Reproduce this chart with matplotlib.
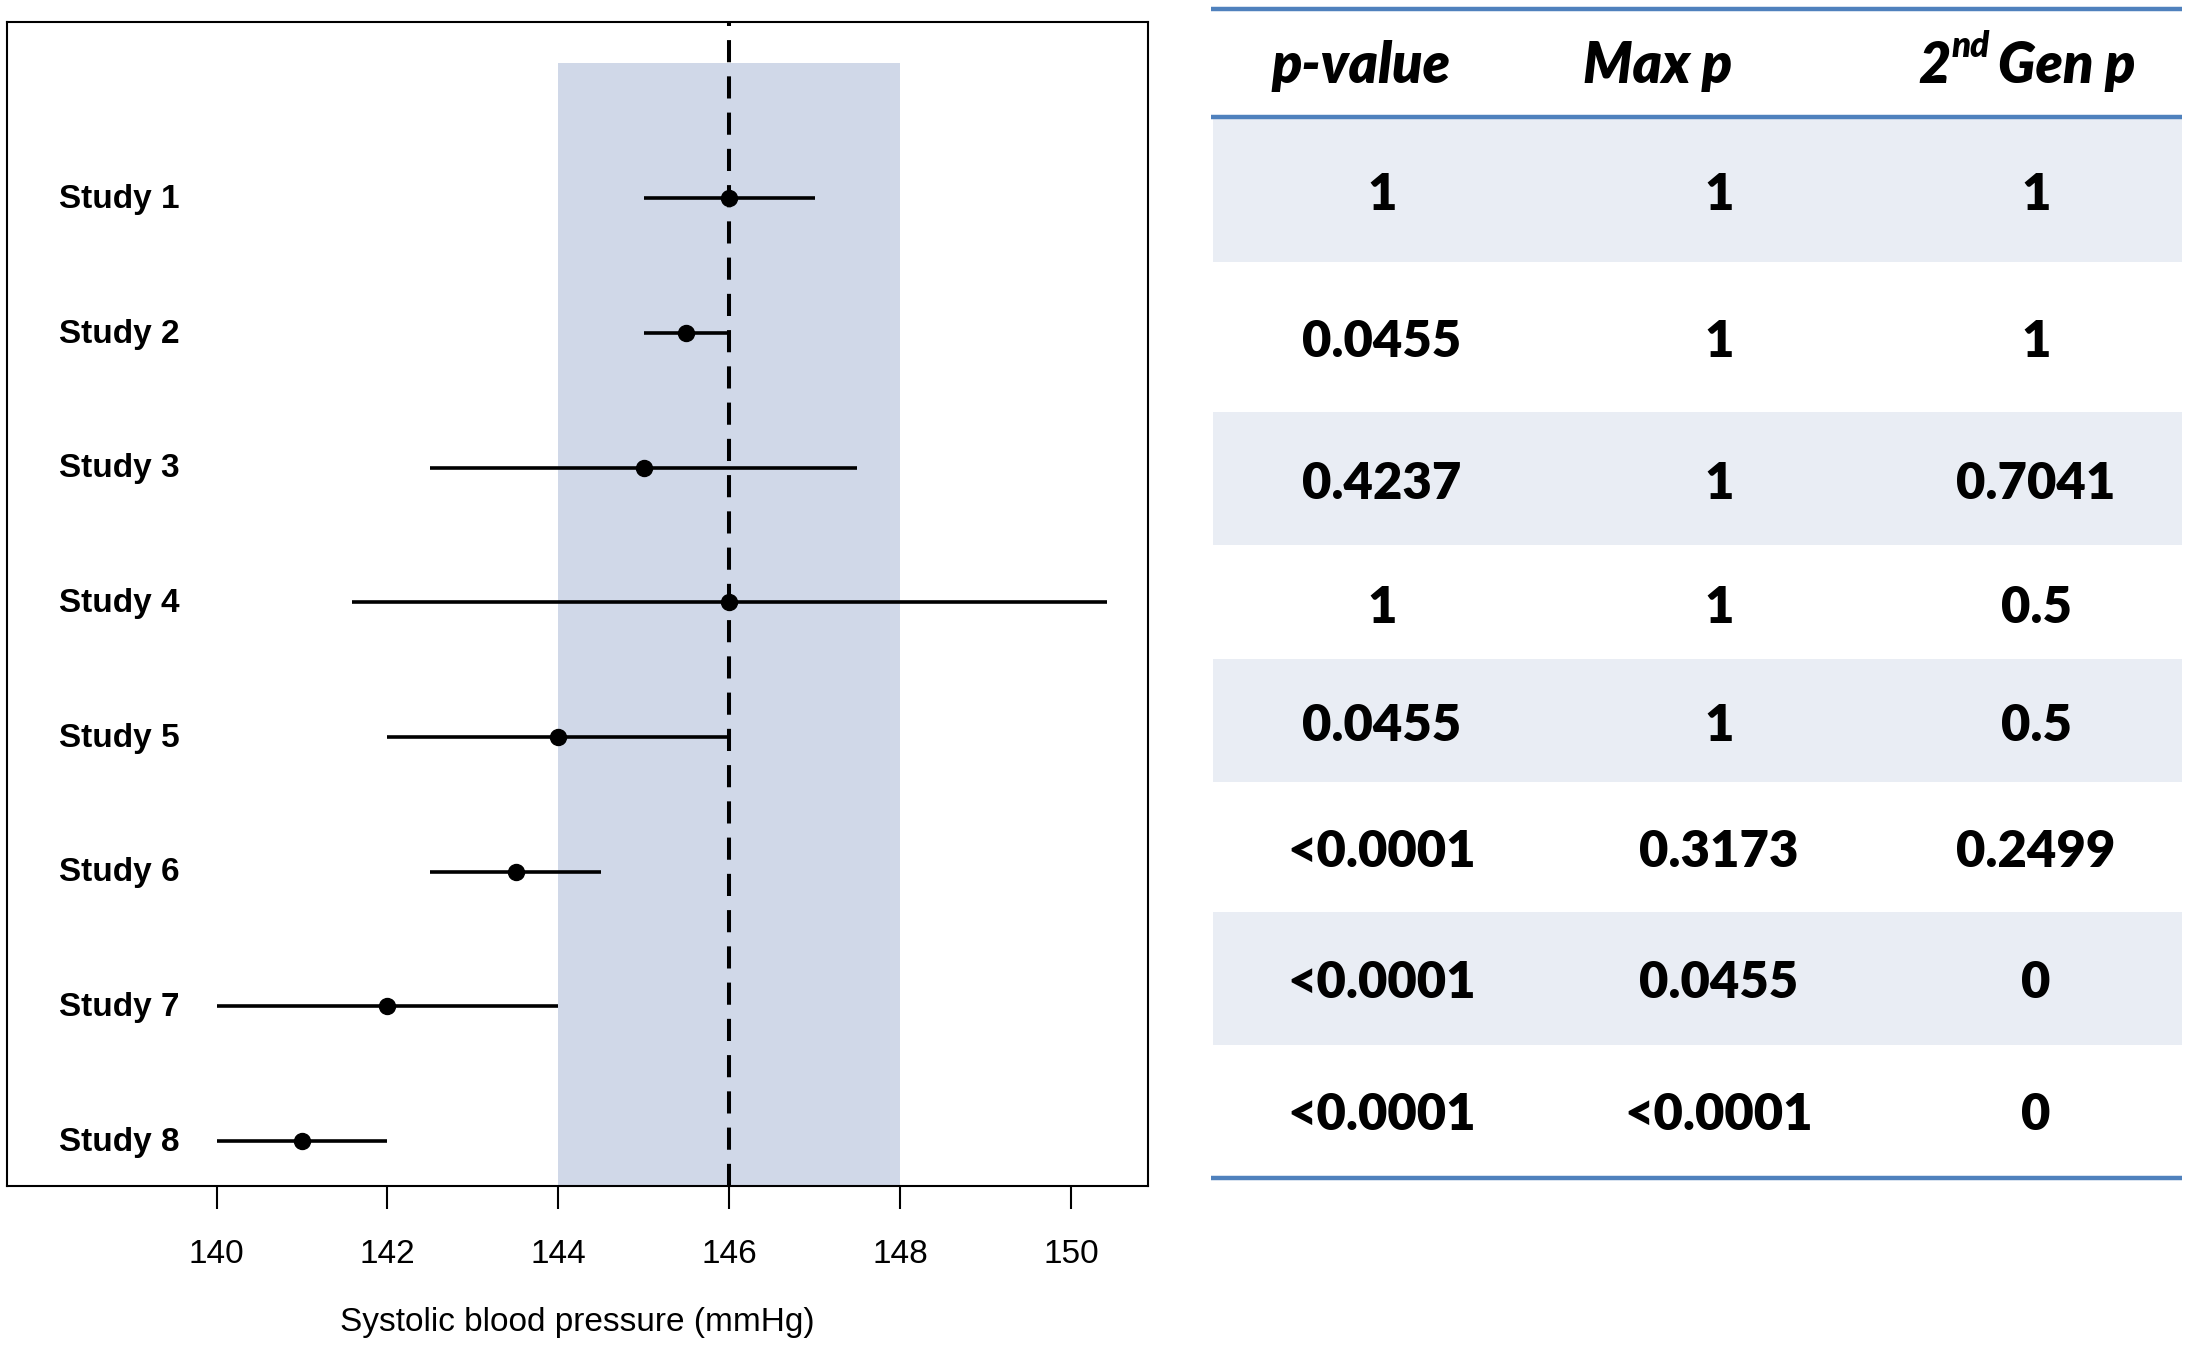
import numpy as np
import matplotlib
matplotlib.use("Agg")
import matplotlib.pyplot as plt

# forest plot data
studies = ["Study 1", "Study 2", "Study 3", "Study 4", "Study 5", "Study 6", "Study 7", "Study 8"]
est = [146, 145.5, 145, 146, 144, 143.5, 142, 141]
lower = [145, 145, 142.5, 141.58, 142, 142.5, 140, 140]
upper = [147, 146, 147.5, 150.42, 146, 144.5, 144, 142]
null_lo, null_hi = 144, 148
null_mid = 146
xticks = [140, 142, 144, 146, 148, 150]

# table data
headers = ["p-value", "Max p", "2nd Gen p"]
pvals = ["1", "0.0455", "0.4237", "1", "0.0455", "<0.0001", "<0.0001", "<0.0001"]
maxp = ["1", "1", "1", "1", "1", "0.3173", "0.0455", "<0.0001"]
gen2p = ["1", "1", "0.7041", "0.5", "0.5", "0.2499", "0", "0"]

W, H = 2188, 1350
fig = plt.figure(figsize=(W / 100, H / 100), dpi=100)

# ---- left panel ----
ax = fig.add_axes([7 / W, (H - 1186) / H, (1147.7 - 7) / W, (1186 - 22) / H])
ypos = np.arange(len(studies), 0, -1)
ax.set_xlim(137.546, 150.90)
ax.set_ylim(0.667, 9.307)

ax.fill_between([null_lo, null_hi], 0, 9, color="#D0D8E8", lw=0, zorder=0)
ax.axvline(null_mid, color="black", lw=2.9, dashes=(5.5, 3.5), zorder=3)
ax.hlines(ypos, lower, upper, color="black", lw=2.6, zorder=2)
ax.plot(est, ypos, "o", color="black", ms=11.5, zorder=4)

for y, s in zip(ypos, studies):
    ax.annotate(s, xy=(59 / W, y), xycoords=("figure fraction", "data"),
                xytext=(0, -7), textcoords="offset points",
                ha="left", va="baseline", fontsize=24, fontweight="bold",
                family="Liberation Sans")

ax.set_yticks([])
ax.set_xticks(xticks)
ax.set_xticklabels([str(t) for t in xticks], family="Liberation Sans", fontsize=24)
ax.tick_params(axis="x", direction="out", length=16.5, width=1.5, pad=22)
for sp in ax.spines.values():
    sp.set_linewidth(1.5)
ax.set_xlabel("Systolic blood pressure (mmHg)", family="Liberation Sans",
              fontsize=24, labelpad=26)

# ---- right panel: table ----
tax = fig.add_axes([0, 0, 1, 1])
tax.set_xlim(0, W)
tax.set_ylim(H, 0)
tax.axis("off")

x0, x1 = 1211, 2182
row_edges = [117, 262, 412, 545, 659, 782, 912, 1045, 1178]
baselines = [210, 357, 499, 623, 741, 867, 998, 1130]
col_x = [1382, 1719, 2036]

for i in range(len(pvals)):
    if i % 2 == 0:
        tax.fill_between([x0 + 2, x1], row_edges[i], row_edges[i + 1],
                         color="#E9EDF4", lw=0, zorder=0)
for yy in [9, 117, 1178]:
    tax.plot([x0, x1], [yy, yy], color="#4F81BD", lw=3.2, solid_capstyle="butt", zorder=2)

for i, row in enumerate(zip(pvals, maxp, gen2p)):
    for cx, v in zip(col_x, row):
        tax.text(cx, baselines[i], v, ha="center", va="baseline", fontsize=36.5,
                 fontweight="heavy", family="Lato")

hdr_kw = dict(va="baseline", fontsize=40, fontweight="heavy", style="italic", family="Lato")
tax.text(1361, 83, headers[0], ha="center", **hdr_kw)
tax.text(1658, 83, headers[1], ha="center", **hdr_kw)

# "2nd Gen p" with a raised "nd"
r = fig.canvas.get_renderer()
t2 = tax.text(0, 83, headers[2][0], ha="left", **hdr_kw)
tnd = tax.text(0, 57, headers[2][1:3], ha="left", va="baseline", fontsize=25,
               fontweight="heavy", style="italic", family="Lato")
tgen = tax.text(0, 83, headers[2][4:], ha="left", **hdr_kw)
w2 = t2.get_window_extent(r).width
wnd = tnd.get_window_extent(r).width
wgen = tgen.get_window_extent(r).width
gap = 10
total = w2 + wnd + gap + wgen
start = 2027 - total / 2
t2.set_x(start)
tnd.set_x(start + w2 + 1)
tgen.set_x(start + w2 + wnd + gap)

fig.savefig("out.png", dpi=100)
